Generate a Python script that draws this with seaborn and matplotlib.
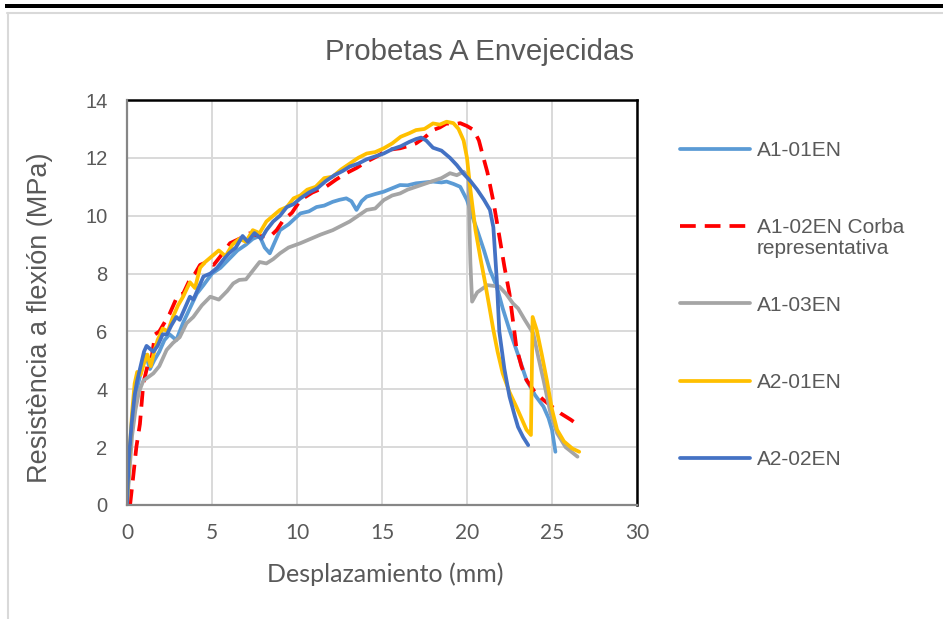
import numpy as np
import pandas as pd
import matplotlib
matplotlib.use("Agg")
import matplotlib.pyplot as plt
from matplotlib.lines import Line2D
from matplotlib.patches import Rectangle
import seaborn as sns

# ---------------- data ----------------
a101_x = [0, 0.15, 0.3, 0.5, 0.7, 0.9, 1.1, 1.35, 1.6, 1.9, 2.2, 2.5, 2.9, 3.3, 3.7, 4.1, 4.5, 5.0, 5.5, 6.0,
          6.5, 7.0, 7.4, 7.8, 8.1, 8.4, 8.7, 9.0, 9.5, 10.2, 10.7, 11.15, 11.6, 12.1, 12.5, 12.9, 13.2, 13.5,
          13.8, 14.1, 14.6, 15.1, 15.6, 16.06, 16.5, 17.0, 17.5, 18.0, 18.5, 18.8, 19.2, 19.6, 20.0, 20.3,
          20.6, 21.0, 21.35, 21.75, 22.1, 22.5, 23.0, 23.5, 24.0, 24.5, 24.8, 25.0, 25.2]
a101_y = [0, 1.6, 2.9, 3.8, 4.3, 4.8, 5.2, 4.7, 5.0, 5.3, 5.7, 5.9, 5.7, 6.3, 6.8, 7.3, 7.6, 8.0, 8.2, 8.5,
          8.8, 9.0, 9.2, 9.3, 8.9, 8.7, 9.1, 9.5, 9.7, 10.08, 10.15, 10.3, 10.35, 10.48, 10.55, 10.6, 10.5,
          10.2, 10.5, 10.66, 10.75, 10.83, 10.95, 11.06, 11.05, 11.12, 11.15, 11.18, 11.15, 11.18, 11.1, 11.0,
          10.54, 10.0, 9.5, 8.8, 8.12, 7.55, 6.8, 6.05, 5.2, 4.32, 3.8, 3.4, 3.0, 2.6, 1.84]

a102_x = [0.18, 0.35, 0.55, 0.76, 0.96, 1.2, 1.45, 1.65, 1.9, 2.2, 2.5, 2.8, 3.0, 3.3, 3.7, 4.0, 4.3, 4.7,
          5.1, 5.5, 6.06, 6.6, 7.2, 7.8, 8.4, 8.8, 9.2, 9.7, 10.2, 10.9, 11.7, 12.3, 12.9, 13.5, 14.1, 14.7,
          15.3, 16.06, 16.5, 17.0, 17.5, 18.0, 18.4, 18.8, 19.2, 19.6, 20.0, 20.4, 20.7, 20.9, 21.2, 21.55,
          21.9, 22.2, 22.5, 22.9, 23.2, 23.5, 24.0, 24.5, 25.0, 25.5, 26.1, 26.7]
a102_y = [0, 0.9, 2.0, 2.8, 4.2, 4.8, 5.1, 5.9, 6.0, 6.3, 6.6, 7.0, 7.26, 7.3, 7.8, 8.0, 8.3, 8.4, 8.3,
          8.6, 9.05, 9.2, 9.39, 9.3, 9.27, 9.5, 9.85, 10.1, 10.54, 10.8, 11.0, 11.25, 11.47, 11.65, 11.87,
          12.05, 12.27, 12.33, 12.4, 12.5, 12.7, 12.96, 13.05, 13.19, 13.15, 13.2, 13.1, 12.96, 12.6, 12.15,
          11.5, 10.5, 9.3, 8.24, 7.3, 5.47, 4.8, 4.32, 3.9, 3.63, 3.4, 3.17, 2.95, 2.7]

a103_x = [0, 0.15, 0.3, 0.5, 0.7, 0.96, 1.2, 1.55, 1.9, 2.33, 2.7, 3.1, 3.5, 3.9, 4.4, 4.9, 5.4, 5.9, 6.25,
          6.6, 7.0, 7.4, 7.8, 8.2, 8.6, 9.0, 9.5, 10.2, 10.8, 11.4, 12.1, 12.6, 13.1, 13.6, 14.1, 14.6, 15.1,
          15.6, 16.06, 16.5, 17.0, 17.5, 18.0, 18.5, 19.0, 19.4, 19.8, 20.08, 20.15, 20.2, 20.3, 20.6, 21.2,
          21.9, 22.3, 22.7, 23.0, 23.4, 23.9, 24.2, 24.5, 24.9, 25.3, 25.8, 26.5]
a103_y = [0, 1.2, 2.4, 3.3, 3.9, 4.3, 4.4, 4.55, 4.8, 5.36, 5.6, 5.8, 6.28, 6.5, 6.9, 7.2, 7.1, 7.4, 7.66,
          7.78, 7.8, 8.1, 8.4, 8.35, 8.5, 8.7, 8.9, 9.05, 9.2, 9.35, 9.5, 9.65, 9.8, 10.0, 10.2, 10.25, 10.54,
          10.7, 10.77, 10.9, 11.0, 11.1, 11.2, 11.3, 11.47, 11.4, 11.52, 11.35, 9.5, 8.36, 7.03, 7.35, 7.6,
          7.55, 7.3, 6.97, 6.8, 6.4, 5.93, 5.1, 4.32, 3.2, 2.48, 2.0, 1.67]

a201_x = [0, 0.15, 0.3, 0.45, 0.6, 0.8, 1.0, 1.2, 1.4, 1.6, 1.8, 2.1, 2.4, 2.7, 3.0, 3.3, 3.7, 4.0, 4.3,
          4.6, 5.0, 5.4, 5.8, 6.2, 6.6, 7.0, 7.4, 7.8, 8.2, 8.6, 9.0, 9.4, 9.8, 10.2, 10.6, 11.1, 11.6, 12.1,
          12.6, 13.1, 13.6, 14.1, 14.6, 15.1, 15.6, 16.1, 16.6, 17.0, 17.5, 18.0, 18.4, 18.8, 19.2, 19.5,
          19.8, 20.0, 20.2, 20.5, 20.8, 21.06, 21.3, 21.55, 21.8, 22.1, 22.5, 22.9, 23.2, 23.5, 23.76, 23.86,
          24.1, 24.4, 24.7, 25.0, 25.3, 25.7, 26.2, 26.6]
a201_y = [0, 1.8, 3.2, 4.2, 4.6, 4.5, 4.9, 5.2, 4.8, 5.3, 5.7, 6.1, 6.0, 6.5, 6.9, 7.2, 7.7, 7.5, 8.2, 8.4,
          8.6, 8.8, 8.6, 9.0, 9.2, 9.1, 9.5, 9.4, 9.8, 10.0, 10.2, 10.3, 10.6, 10.7, 10.9, 11.0, 11.3, 11.35,
          11.6, 11.8, 12.0, 12.15, 12.2, 12.33, 12.5, 12.73, 12.85, 12.96, 13.0, 13.19, 13.15, 13.25, 13.2,
          13.0, 12.6, 12.0, 10.9, 9.5, 8.5, 7.7, 6.9, 6.05, 5.3, 4.55, 3.9, 3.4, 3.0, 2.6, 2.42, 6.5, 6.05,
          5.2, 4.3, 3.3, 2.6, 2.2, 1.95, 1.84]

a202_x = [0, 0.1, 0.27, 0.45, 0.6, 0.8, 1.0, 1.15, 1.35, 1.55, 1.8, 2.1, 2.35, 2.6, 2.9, 3.1, 3.4, 3.7, 3.9,
          4.2, 4.5, 4.9, 5.3, 5.7, 6.0, 6.4, 6.8, 7.1, 7.5, 7.9, 8.2, 8.6, 9.0, 9.4, 9.8, 10.2, 10.7, 11.2,
          11.7, 12.2, 12.7, 13.1, 13.6, 14.1, 14.6, 15.1, 15.6, 16.1, 16.6, 17.0, 17.3, 17.6, 18.0, 18.5,
          19.0, 19.4, 19.8, 20.2, 20.6, 21.0, 21.35, 21.55, 21.75, 21.9, 22.2, 22.5, 22.8, 23.0, 23.3, 23.6]
a202_y = [0, 1.5, 2.8, 3.8, 4.3, 4.8, 5.3, 5.5, 5.4, 5.3, 5.5, 5.9, 5.9, 6.2, 6.5, 6.4, 6.8, 7.2, 7.1, 7.5,
          7.9, 8.0, 8.2, 8.5, 8.7, 8.9, 9.3, 9.1, 9.4, 9.2, 9.5, 9.8, 10.0, 10.3, 10.4, 10.6, 10.8, 10.95,
          11.2, 11.4, 11.55, 11.7, 11.8, 11.95, 12.05, 12.15, 12.3, 12.4, 12.55, 12.65, 12.7, 12.6, 12.35,
          12.25, 12.0, 11.75, 11.45, 11.2, 10.9, 10.55, 10.2, 9.6, 7.8, 6.0, 4.7, 3.75, 3.1, 2.7, 2.35, 2.07]

series_names = ["A1-01EN", "A1-02EN Corba\nrepresentativa", "A1-03EN", "A2-01EN", "A2-02EN"]
series_colors = ["#5B9BD5", "#FF0000", "#A5A5A5", "#FFC000", "#4472C4"]
series_x = [a101_x, a102_x, a103_x, a201_x, a202_x]
series_y = [a101_y, a102_y, a103_y, a201_y, a202_y]

x_ticks = [0, 5, 10, 15, 20, 25, 30]
y_ticks = [0, 2, 4, 6, 8, 10, 12, 14]

title = "Probetas A Envejecidas"
x_label = "Desplazamiento (mm)"
y_label = "Resistència a flexión (MPa)"

# ---------------- style ----------------
sns.set_theme(style="white")
plt.rcParams["font.family"] = ["Liberation Sans", "DejaVu Sans"]
txt_color = "#595959"

W, H = 943, 619
fig = plt.figure(figsize=(W / 100, H / 100), dpi=100)
L, R, T, B = 127, 637, 100, 505
ax = fig.add_axes([L / W, 1 - B / H, (R - L) / W, (B - T) / H])

for name, col, xs, ys in zip(series_names, series_colors, series_x, series_y):
    df = pd.DataFrame({"x": xs, "y": ys})
    sns.lineplot(data=df, x="x", y="y", sort=False, estimator=None, color=col,
                 linewidth=2.7, ax=ax, label=name)

lines = ax.get_lines()
for ln in lines:
    ln.set_solid_joinstyle("round")
    ln.set_solid_capstyle("round")
lines[1].set_dashes([4.2, 2.4])
lines[1].set_dash_capstyle("butt")

ax.set_xlim(0, 30)
ax.set_ylim(0, 14)
ax.set_xticks(x_ticks)
ax.set_yticks(y_ticks)
ax.grid(True, color="#D9D9D9", linewidth=1.4)
ax.set_axisbelow(True)
ax.tick_params(length=0)
ax.tick_params(axis="y", pad=14, labelsize=14.5, labelcolor=txt_color)
ax.tick_params(axis="x", pad=13, labelsize=15, labelcolor=txt_color)
for lab in ax.get_xticklabels():
    lab.set_family(["Lato", "DejaVu Sans"])

for side in ["top", "right"]:
    ax.spines[side].set_color("black")
    ax.spines[side].set_linewidth(1.8)
for side in ["left", "bottom"]:
    ax.spines[side].set_color("#868686")
    ax.spines[side].set_linewidth(1.6)
    ax.spines[side].set_zorder(3)

ax.set_xlabel(x_label, fontsize=18, color=txt_color, family=["Lato", "DejaVu Sans"])
ax.set_ylabel(y_label, fontsize=19.5, color=txt_color)
ax.xaxis.set_label_coords((385 - L) / (R - L), (B - 562) / (B - T))
ax.xaxis.label.set_va("top")
ax.yaxis.set_label_coords((53 - L) / (R - L), (B - 318) / (B - T))

fig.text(480 / W, 1 - 52 / H, title, ha="center", va="center", fontsize=21.2, color=txt_color)

# legend: single-line labels; second line of the red entry added under it
handles = lines
labels = [n.split("\n")[0] for n in series_names]
leg = ax.legend(handles, labels, loc="upper left", bbox_to_anchor=(680 / W, 1 - 141 / H),
                bbox_transform=fig.transFigure, frameon=False, fontsize=15,
                labelspacing=2.8, handlelength=3.35, handletextpad=0.35, borderpad=0,
                borderaxespad=0)
for t in leg.get_texts():
    t.set_color(txt_color)
fig.canvas.draw()
ann = ax.annotate(series_names[1].split("\n")[1], xy=(0, 0), xycoords=leg.get_texts()[1],
                  xytext=(0, -1.5), textcoords="offset points", va="top", ha="left",
                  fontsize=15, color=txt_color, zorder=10, annotation_clip=False)

# chart-area decorations (page border lines)
fig.add_artist(Rectangle((5 / W, 1 - 7.5 / H), 1, 3.5 / H, transform=fig.transFigure,
                         facecolor="black", edgecolor="none"))
fig.add_artist(Line2D([7.5 / W, 1], [1 - 13 / H, 1 - 13 / H], transform=fig.transFigure,
                      color="#D9D9D9", linewidth=1.5))
fig.add_artist(Line2D([8 / W, 8 / W], [0, 1 - 13 / H], transform=fig.transFigure,
                      color="#D9D9D9", linewidth=1.5))

fig.savefig("out.png", dpi=100)
